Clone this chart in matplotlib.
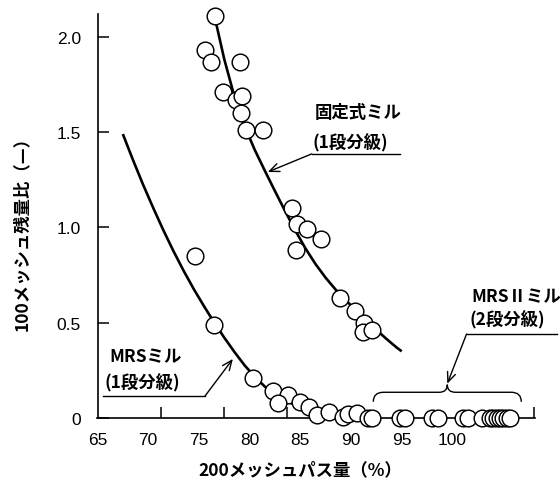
import matplotlib
matplotlib.use("Agg")
import matplotlib.pyplot as plt
from matplotlib.path import Path
from matplotlib.patches import PathPatch

plt.rcParams['font.family'] = ['Noto Sans CJK JP', 'DejaVu Sans']

# ---- data ----
fixed_x = [76.6, 75.6, 76.2, 79.1, 77.4, 78.7, 79.3, 79.2, 79.6, 81.3,
           84.2, 84.7, 85.7, 87.0, 84.6, 88.9, 90.4, 91.3, 91.2, 92.1]
fixed_y = [2.11, 1.93, 1.87, 1.87, 1.71, 1.67, 1.69, 1.60, 1.51, 1.51,
           1.10, 1.02, 0.99, 0.94, 0.88, 0.63, 0.56, 0.50, 0.45, 0.46]

mrs_x = [74.6, 76.5, 80.3, 82.3, 83.8, 82.8, 85.0, 85.9, 86.6, 87.8, 89.2, 89.7, 90.6]
mrs_y = [0.85, 0.49, 0.21, 0.14, 0.12, 0.08, 0.085, 0.06, 0.015, 0.03, 0.005, 0.02, 0.025]

mrs2_x = [91.65, 92.05, 94.8, 95.3, 98.0, 98.55, 101.0, 101.5, 102.9,
          103.7, 104.0, 104.4, 104.7, 105.0, 105.4, 105.7]
mrs2_y = [0.0] * 16

fixed_curve_x = [76.6, 77.5, 78.5, 79.5, 80.5, 81.5, 82.5, 83.5, 84.5, 85.5,
                 86.5, 87.5, 88.5, 89.5, 90.5, 91.5, 92.5, 93.5, 94.5, 95.0]
fixed_curve_y = [2.095, 1.883, 1.688, 1.533, 1.408, 1.298, 1.191, 1.086, 0.985, 0.891,
                 0.808, 0.736, 0.673, 0.617, 0.565, 0.513, 0.463, 0.415, 0.370, 0.350]

mrs_curve_x = [67.5, 68.5, 69.5, 70.5, 71.5, 72.5, 73.5, 74.5, 75.5, 76.5, 77.5,
               78.5, 79.5, 80.5, 81.5, 82.5, 83.5, 84.5, 85.5, 86.5, 87.5, 88.5,
               89.5, 90.5]
mrs_curve_y = [1.49, 1.354, 1.224, 1.102, 0.985, 0.875, 0.772, 0.676, 0.587, 0.502, 0.422,
               0.347, 0.277, 0.217, 0.165, 0.125, 0.093, 0.068, 0.047, 0.030, 0.017, 0.008,
               0.002, 0.0]

x_ticks = [65, 70, 75, 80, 85, 90, 95, 100]
x_ticklabels = ['65', '70', '75', '80', '85', '90', '95', '100']
y_ticks = [0, 0.5, 1.0, 1.5, 2.0]
y_ticklabels = ['0', '0.5', '1.0', '1.5', '2.0']
x_tick_marks = [71.26, 77.46, 83.67, 108.1]

# ---- figure ----
W, H = 560, 489
fig = plt.figure(figsize=(W / 100, H / 100), dpi=100)
ax = fig.add_axes([97.5 / W, 70 / H, 437.5 / W, 404 / H])
ax.set_xlim(65, 108.15)
ax.set_ylim(0, 2.12)

for s in ['top', 'right']:
    ax.spines[s].set_visible(False)
for s in ['left', 'bottom']:
    ax.spines[s].set_linewidth(1.2)

ax.set_xticks(x_ticks)
ax.set_xticklabels(x_ticklabels)
ax.set_xticks(x_tick_marks, minor=True)
ax.set_yticks(y_ticks)
ax.set_yticklabels(y_ticklabels)
ax.tick_params(axis='x', which='major', length=0, pad=10, labelsize=12.5)
ax.tick_params(axis='x', which='minor', direction='in', length=8, width=1.1)
ax.tick_params(axis='y', which='major', direction='in', length=8, width=1.1,
               pad=12, labelsize=12.5)
for lab in ax.get_xticklabels() + ax.get_yticklabels():
    lab.set_fontfamily('Liberation Sans')

# curves
ax.plot(fixed_curve_x, fixed_curve_y, color='black', lw=1.9, zorder=2,
        solid_capstyle='butt', solid_joinstyle='round')
ax.plot(mrs_curve_x, mrs_curve_y, color='black', lw=1.9, zorder=2,
        solid_capstyle='butt', solid_joinstyle='round')

# points
mk = dict(marker='o', ls='none', ms=12, mfc='white', mec='black', mew=1.05,
          clip_on=False, zorder=3)
for xv, yv in zip(fixed_x, fixed_y):
    ax.plot([xv], [yv], **mk)
for xv, yv in zip(mrs_x, mrs_y):
    ax.plot([xv], [yv], **mk)
for xv, yv in zip(mrs2_x, mrs2_y):
    ax.plot([xv], [yv], **mk)

# annotations
fs = 12.5
tw = 'bold'
arrow = dict(arrowstyle='->,head_length=0.7,head_width=0.3',
             lw=1.0, color='black', shrinkA=0, shrinkB=0)
ax.text(86.4, 1.606, '固定式ミル', fontsize=fs, fontweight=tw, ha='left', va='center')
ax.text(86.2, 1.449, '(1段分級)', fontsize=fs, fontweight=tw, ha='left', va='center')
ax.plot([86.13, 94.8], [1.386, 1.386], color='black', lw=1.0, clip_on=False)
ax.annotate('', xy=(81.8, 1.291), xytext=(86.13, 1.386), arrowprops=arrow)

ax.text(66.2, 0.325, 'MRSミル', fontsize=fs, fontweight=tw, ha='left', va='center')
ax.text(65.7, 0.189, '(1段分級)', fontsize=fs, fontweight=tw, ha='left', va='center')
ax.plot([65.54, 75.6], [0.115, 0.115], color='black', lw=1.0, clip_on=False)
ax.annotate('', xy=(78.35, 0.31), xytext=(75.6, 0.115), arrowprops=arrow)

ax.text(101.9, 0.64, 'MRSⅡミル', fontsize=fs, fontweight=tw, ha='left', va='center')
ax.text(101.7, 0.52, '(2段分級)', fontsize=fs, fontweight=tw, ha='left', va='center')
ax.plot([101.4, 110.3], [0.441, 0.441], color='black', lw=1.0, clip_on=False)
ax.annotate('', xy=(99.5, 0.18), xytext=(101.4, 0.441), arrowprops=arrow,
            annotation_clip=False)

# curly brace
yb, yf, yt = 0.085, 0.135, 0.175
xl, xr, xm = 92.2, 106.8, 99.5
verts = [(xl, yb), (xl, yf), (xl + 1.0, yf),
         (xm - 0.8, yf),
         (xm, yf), (xm, yt),
         (xm, yf), (xm + 0.8, yf),
         (xr - 1.0, yf),
         (xr, yf), (xr, yb)]
codes = [Path.MOVETO, Path.CURVE3, Path.CURVE3,
         Path.LINETO,
         Path.CURVE3, Path.CURVE3,
         Path.CURVE3, Path.CURVE3,
         Path.LINETO,
         Path.CURVE3, Path.CURVE3]
ax.add_patch(PathPatch(Path(verts, codes), fill=False, lw=1.0,
                       edgecolor='black', clip_on=False))

# axis labels
fig.text(198 / W, 1 - 470 / H, '200メッシュパス量（%）', fontsize=12.5,
         fontweight=tw, ha='left', va='center')
fig.text(22 / W, 1 - 230 / H, '100メッシュ残量比（—）', fontsize=12.5,
         fontweight=tw, ha='center', va='center', rotation=90)

fig.savefig('out.png', dpi=100)
